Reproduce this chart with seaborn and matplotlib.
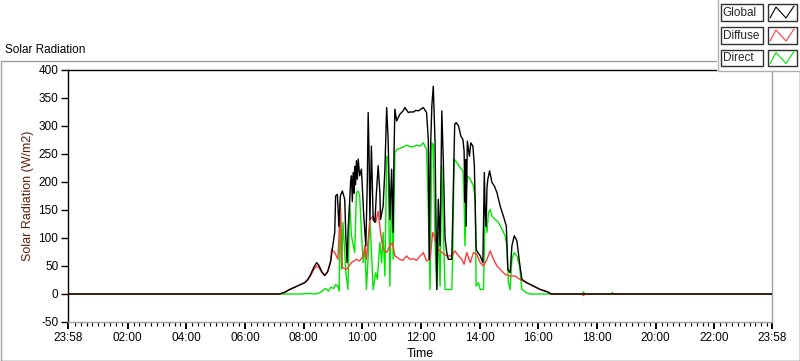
import numpy as np
import pandas as pd
import matplotlib
matplotlib.use("Agg")
import matplotlib.pyplot as plt
import seaborn as sns
from matplotlib.patches import Rectangle
from matplotlib.lines import Line2D
from matplotlib.ticker import FixedLocator

sns.set_style("white")
plt.rcParams['font.family'] = ['Liberation Sans', 'DejaVu Sans']

# ---------------- data (time in hours of day, value in W/m2) ----------------
series_names = ["Global", "Diffuse", "Direct"]

global_hours = [-0.0333, 7.18, 7.35, 7.52, 7.69, 7.86, 8.03, 8.14, 8.24, 8.34, 8.44, 8.51, 8.62, 8.72,
                8.82, 8.92, 8.99, 9.06, 9.09, 9.15, 9.20, 9.25, 9.32, 9.40, 9.44, 9.48, 9.52, 9.57,
                9.60, 9.63, 9.66, 9.69, 9.72, 9.74, 9.77, 9.80, 9.83, 9.86, 9.91, 9.97, 10.05, 10.12,
                10.17, 10.20, 10.23, 10.26,
                10.31, 10.37, 10.43, 10.48, 10.54, 10.60, 10.62, 10.71, 10.77, 10.83, 10.88, 10.94,
                11.00, 11.05, 11.08, 11.11, 11.17, 11.28, 11.39, 11.45, 11.57, 11.62, 11.74, 11.83,
                11.91, 12.00, 12.08, 12.19, 12.25, 12.28, 12.32, 12.37, 12.42, 12.48, 12.54, 12.59,
                12.65, 12.71, 12.76, 12.82, 12.88, 12.93, 13.05, 13.10, 13.15, 13.20, 13.28, 13.36,
                13.43, 13.47, 13.50, 13.52, 13.54, 13.56, 13.58, 13.65, 13.70, 13.77, 13.82, 13.88,
                13.94, 14.02, 14.11, 14.16, 14.19, 14.22, 14.25, 14.28, 14.34, 14.42, 14.50, 14.59,
                14.70, 14.81, 14.91, 14.96,
                15.04, 15.10, 15.18, 15.27, 15.36, 15.44, 15.61, 15.84, 16.07, 16.30, 16.44, 23.9667]
global_values = [0, 0, 3, 8, 12, 16, 20, 26, 35, 47, 56, 52, 40, 33,
                 40, 58, 85, 110, 175, 178, 121, 175, 184, 169, 100, 56, 120, 166,
                 200, 211, 165, 217, 180, 228, 195, 238, 205, 241, 211, 223, 139, 86,
                 200, 324, 250, 133,
                 264, 133, 128, 180, 229, 180, 133, 157, 223, 333, 276, 133,
                 223, 110, 250, 330, 309, 321, 327, 333, 324, 325, 325, 328,
                 327, 330, 333, 324, 276, 62, 250, 336, 371, 270, 8, 169,
                 86, 327, 241, 100, 74, 62, 62, 181, 303, 306, 300, 282,
                 276, 255, 164, 240, 121, 200, 273, 246, 270, 264, 229, 80,
                 74, 68, 56, 217, 140, 121, 190, 205, 220, 199, 193, 181,
                 157, 139, 121, 44,
                 38, 86, 104, 95, 56, 26, 20, 14, 8, 4, 0, 0]

diffuse_hours = [-0.0333, 7.18, 7.35, 7.52, 7.69, 7.86, 8.03, 8.14, 8.24, 8.34, 8.44, 8.51, 8.62, 8.72,
                 8.82, 8.92, 8.95, 9.06, 9.17, 9.25, 9.32, 9.46, 9.63, 9.80, 9.91, 10.03, 10.09,
                 10.14, 10.26, 10.37, 10.46, 10.54, 10.62, 10.71, 10.83, 10.94, 11.03, 11.11, 11.28,
                 11.38, 11.51, 11.62, 11.74, 11.85, 11.97, 12.08, 12.19, 12.31, 12.40, 12.48, 12.59,
                 12.71, 12.88, 13.05, 13.16, 13.28, 13.39, 13.47, 13.56, 13.68, 13.79, 13.90, 14.02,
                 14.13, 14.25, 14.36, 14.47, 14.59, 14.70, 14.87, 15.04, 15.21, 15.38, 15.61, 15.84,
                 16.07, 16.30, 16.44, 17.50, 17.54, 17.58, 23.9667]
diffuse_values = [0, 0, 3, 8, 12, 16, 20, 25, 33, 43, 50, 48, 38, 33,
                  40, 58, 80, 74, 62, 160, 47, 44, 56, 62, 59, 68, 86,
                  62, 133, 139, 128, 148, 110, 80, 74, 86, 92, 68, 62,
                  60, 68, 62, 63, 60, 68, 74, 59, 62, 110, 98, 80,
                  74, 68, 68, 77, 68, 62, 53, 74, 56, 74, 71, 56,
                  50, 62, 77, 62, 50, 44, 35, 32, 32, 26, 20, 14,
                  8, 4, 0, 0, -3, 0, 0]

direct_hours = [-0.0333, 7.25, 7.86, 8.21, 8.38, 8.55, 8.75, 8.85, 8.92, 9.03, 9.09, 9.16, 9.21, 9.25,
                9.29, 9.34, 9.44, 9.51, 9.57, 9.63, 9.74, 9.80, 9.86, 9.91, 9.97, 10.03, 10.09,
                10.14, 10.20, 10.26, 10.37, 10.46, 10.51, 10.60, 10.66, 10.71, 10.77, 10.83, 10.88,
                10.94, 11.00, 11.05, 11.11, 11.17, 11.28, 11.38, 11.51, 11.62, 11.74, 11.85, 11.97,
                12.08, 12.19, 12.25, 12.31, 12.37, 12.42, 12.48, 12.54, 12.59, 12.65, 12.71, 12.76,
                12.82, 12.93, 13.05, 13.08, 13.13, 13.22, 13.33, 13.43, 13.47, 13.50, 13.54, 13.58,
                13.68, 13.79, 13.85, 13.88, 13.96, 14.02, 14.13, 14.19, 14.25, 14.30, 14.36, 14.42,
                14.53, 14.64, 14.76, 14.87, 14.93, 14.98, 15.04, 15.10, 15.18, 15.27, 15.36, 15.44,
                15.61, 15.73, 17.50, 17.54, 17.58, 18.49, 18.53, 18.57, 23.9667]
direct_values = [0, 0, 0, 1, 0, 2, 10, 5, 12, 10, 17, 14, 5, 163,
                 44, 128, 38, 8, 163, 104, 74, 181, 184, 175, 110, 56, 86,
                 8, 68, 133, 8, 38, 26, 92, 56, 110, 32, 246, 241,
                 14, 199, 62, 252, 258, 260, 262, 266, 263, 263, 266, 264,
                 270, 258, 151, 8, 270, 267, 92, 8, 110, 14, 229, 120,
                 8, 8, 8, 62, 241, 235, 226, 220, 169, 86, 181, 211,
                 205, 193, 169, 14, 20, 8, 8, 151, 110, 145, 151, 139,
                 133, 128, 116, 104, 86, 20, 8, 62, 74, 68, 50, 8,
                 2, 0, 0, 4, 0, 0, 3, 0, 0]

series_colors = {"Global": "#000000", "Diffuse": "#ff3b3b", "Direct": "#00e600"}

y_ticks = [-50, 0, 50, 100, 150, 200, 250, 300, 350, 400]
x_major_ticks = [-2 / 60, 2, 4, 6, 8, 10, 12, 14, 16, 18, 20, 22, 24 - 2 / 60]
x_tick_labels = ["23:58", "02:00", "04:00", "06:00", "08:00", "10:00", "12:00",
                 "14:00", "16:00", "18:00", "20:00", "22:00", "23:58"]

frames = {
    "Global": pd.DataFrame({"hour": global_hours, "value": global_values}),
    "Diffuse": pd.DataFrame({"hour": diffuse_hours, "value": diffuse_values}),
    "Direct": pd.DataFrame({"hour": direct_hours, "value": direct_values}),
}

# ---------------- figure ----------------
W, H = 800, 361
fig = plt.figure(figsize=(W / 100, H / 100), dpi=100)
fig.patch.set_facecolor("white")

def fx(px):
    return px / W

def fy(py):
    return 1 - py / H

ax = fig.add_axes([fx(68), fy(322), fx(772) - fx(68), fy(70) - fy(322)])

for name, z in [("Direct", 2), ("Diffuse", 3), ("Global", 4)]:
    sns.lineplot(data=frames[name], x="hour", y="value", ax=ax, color=series_colors[name],
                 linewidth=1.0, zorder=z, legend=False, estimator=None, sort=False)

ax.set_xlim(-2 / 60, 24 - 2 / 60)
ax.set_ylim(-50, 400)
ax.set_yticks(y_ticks)
ax.set_yticklabels([str(v) for v in y_ticks])
ax.set_xticks(x_major_ticks)
ax.set_xticklabels(x_tick_labels)
minor = [m / 5 for m in range(1, 120) if m % 10 != 0]
ax.xaxis.set_minor_locator(FixedLocator(minor))

ax.tick_params(axis="both", which="major", direction="out", length=5, width=1,
               labelsize=8.5, colors="#000000", pad=2, bottom=True, left=True)
ax.tick_params(axis="x", which="minor", direction="out", length=3, width=0.8,
               bottom=True, color="#000000")
ax.tick_params(axis="x", which="major", length=5, width=1.4)

for side, col in [("top", "#000000"), ("left", "#000000"), ("right", "#a0a0a0"), ("bottom", "#a0a0a0")]:
    ax.spines[side].set_visible(True)
    ax.spines[side].set_color(col)
    ax.spines[side].set_linewidth(1.0)

ax.set_xlabel("Time", fontsize=9, labelpad=3, color="#000000")
ax.set_ylabel("Solar Radiation (W/m2)", fontsize=9, labelpad=3, color="#5c1f0a")
ax.grid(False)

# outer panel frame
fig.add_artist(Line2D([fx(0.5), fx(0.5)], [fy(61), fy(360.5)], transform=fig.transFigure, color="#a0a0a0", lw=1))
fig.add_artist(Line2D([fx(0.5), fx(799.5)], [fy(61), fy(61)], transform=fig.transFigure, color="#a0a0a0", lw=1))
fig.add_artist(Line2D([fx(799.5), fx(799.5)], [fy(61), fy(360.5)], transform=fig.transFigure, color="#404040", lw=1))
fig.add_artist(Line2D([fx(0.5), fx(799.5)], [fy(360.5), fy(360.5)], transform=fig.transFigure, color="#404040", lw=1))

fig.text(fx(5), fy(50), "Solar Radiation", fontsize=8.5, va="center", ha="left", color="#000000")

# legend (plot legend panel)
fig.add_artist(Rectangle((fx(717), fy(71)), fx(800) - fx(717), fy(0) - fy(71), transform=fig.transFigure,
                         facecolor="white", edgecolor="none", zorder=5))
fig.add_artist(Line2D([fx(717.5), fx(717.5)], [fy(0), fy(71)], transform=fig.transFigure, color="#b0b0b0", lw=1, zorder=6))
fig.add_artist(Line2D([fx(717.5), fx(800)], [fy(71), fy(71)], transform=fig.transFigure, color="#b0b0b0", lw=1, zorder=6))
row_tops = [4, 27, 49.5]
for name, top in zip(series_names, row_tops):
    hgt = 16.5
    fig.add_artist(Rectangle((fx(720.5), fy(top + hgt)), fx(762.5) - fx(720.5), fy(top) - fy(top + hgt),
                             transform=fig.transFigure, facecolor="white", edgecolor="#303030", lw=1, zorder=7))
    fig.add_artist(Rectangle((fx(767.5), fy(top + hgt)), fx(796.5) - fx(767.5), fy(top) - fy(top + hgt),
                             transform=fig.transFigure, facecolor="white", edgecolor="#303030", lw=1, zorder=7))
    fig.text(fx(722.5), fy(top + hgt / 2 + 0.5), name, fontsize=8.5, va="center", ha="left", zorder=8)
    zx = [770, 776, 786, 794]
    zy = [top + 14, top + 3, top + 14, top + 2]
    fig.add_artist(Line2D([fx(v) for v in zx], [fy(v) for v in zy], transform=fig.transFigure,
                          color=series_colors[name], lw=0.8, zorder=8))

fig.savefig("out.png", dpi=100)
